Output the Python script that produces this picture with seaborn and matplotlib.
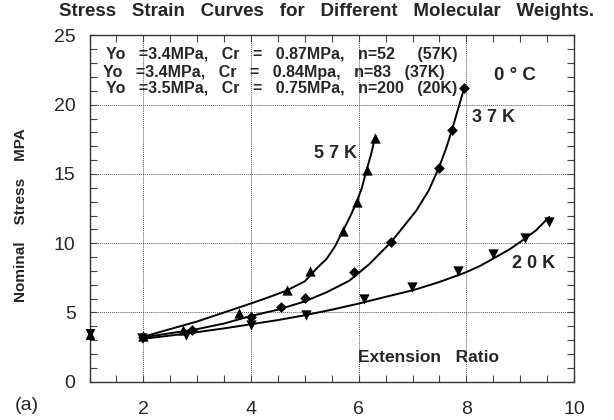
import numpy as np
import pandas as pd
import matplotlib
matplotlib.use("Agg")
import matplotlib.pyplot as plt
import seaborn as sns
from matplotlib.ticker import MultipleLocator

# ---- data ----
# measured points
x57 = [2.0, 2.73, 3.78, 4.66, 5.1, 5.7, 5.96, 6.15, 6.31]
y57 = [3.3, 3.72, 4.96, 6.65, 8.0, 10.9, 12.95, 15.3, 17.6]
x37 = [2.0, 2.9, 4.0, 4.56, 5.01, 5.91, 6.6, 7.49, 7.73, 7.96]
y37 = [3.2, 3.72, 4.68, 5.4, 6.05, 7.9, 10.1, 15.4, 18.2, 21.2]
x20 = [1.98, 2.79, 4.0, 5.03, 6.09, 6.99, 7.84, 8.49, 9.09, 9.54]
y20 = [3.12, 3.36, 4.08, 4.8, 5.95, 6.85, 8.0, 9.2, 10.4, 11.5]
# fitted curves
cx57 = [2.0, 2.5, 3.0, 3.5, 4.0, 4.33, 4.66, 5.0, 5.12, 5.25, 5.4, 5.55, 5.71, 5.85, 5.96, 6.06, 6.14, 6.23, 6.31]
cy57 = [3.25, 3.8, 4.35, 5.0, 5.65, 6.1, 6.58, 7.25, 7.75, 8.3, 8.85, 9.7, 10.9, 12.0, 12.95, 14.0, 15.2, 16.4, 17.75]
cx37 = [2.0, 2.5, 3.0, 3.5, 4.0, 4.5, 5.0, 5.4, 5.83, 6.2, 6.6, 7.07, 7.3, 7.49, 7.62, 7.75, 7.87, 7.96]
cy37 = [3.2, 3.5, 3.8, 4.2, 4.75, 5.2, 5.8, 6.45, 7.3, 8.5, 10.07, 12.35, 13.8, 15.45, 16.8, 18.4, 20.0, 21.2]
cx20 = [2.0, 2.5, 3.0, 3.5, 4.0, 4.5, 5.0, 5.5, 6.0, 6.4, 7.03, 7.5, 7.98, 8.25, 8.49, 8.8, 9.1, 9.3, 9.54]
cy20 = [3.1, 3.33, 3.58, 3.85, 4.15, 4.45, 4.8, 5.2, 5.64, 6.03, 6.63, 7.2, 7.88, 8.35, 8.87, 9.55, 10.36, 10.95, 11.9]
# undeformed point with error bar
x0 = [1.0]
y0 = [3.45]
e0 = [0.3]

xticks = [2, 4, 6, 8, 10]
yticks = [0, 5, 10, 15, 20, 25]

sns.set_style("ticks")
plt.rcParams['font.family'] = ['Liberation Sans', 'DejaVu Sans']

W, H = 614, 420
fig = plt.figure(figsize=(W/100, H/100), dpi=100)
ax = fig.add_axes([89.5/W, 1-381.7/H, (574-89.5)/W, (381.7-35.5)/H])

for cx, cy in [(cx57, cy57), (cx37, cy37), (cx20, cy20)]:
    sns.lineplot(x=cx, y=cy, ax=ax, color='black', lw=1.4, sort=False)

sns.scatterplot(x=x57, y=y57, ax=ax, marker='^', s=55, color='black', edgecolor='black', linewidth=0, zorder=4)
sns.scatterplot(x=x37, y=y37, ax=ax, marker='D', s=30, color='black', edgecolor='black', linewidth=0, zorder=4)
sns.scatterplot(x=x20, y=y20, ax=ax, marker='v', s=55, color='black', edgecolor='black', linewidth=0, zorder=4)

ax.errorbar(x0, y0, yerr=e0, fmt='none', ecolor='black', lw=1, clip_on=False)
ax.scatter(x0, [y0[0] + 0.08], marker='v', s=30, color='black', clip_on=False, zorder=5)
ax.scatter(x0, [y0[0] - 0.08], marker='^', s=30, color='black', clip_on=False, zorder=5)

ax.set_xlim(1, 10)
ax.set_ylim(0, 25)
ax.set_xticks(xticks)
ax.set_yticks(yticks)
ax.xaxis.set_minor_locator(MultipleLocator(0.5))
ax.yaxis.set_minor_locator(MultipleLocator(1))
ax.tick_params(which='both', direction='in', top=True, right=True, length=5, width=0.8, color='#444444')
ax.tick_params(axis='x', which='major', labelsize=14, pad=14)
ax.tick_params(axis='y', which='major', labelsize=14, pad=10)
for s in ax.spines.values():
    s.set_linewidth(1.0)
    s.set_color('#333333')

ax.grid(True, which='major', linestyle=(0, (1, 1)), color='#555555', lw=0.7)
ax.set_xlabel('')
ax.set_ylabel('')

def px(x):
    return x / W

def py(y):
    return 1 - y / H

# texts
fig.text(px(327), py(11), 'Stress   Strain   Curves   for   Different   Molecular   Weights.',
         ha='center', va='center', fontsize=13.5, fontweight='bold')
fig.text(px(21), py(215), 'Nominal    Stress    MPA', rotation=90, ha='center', va='center',
         fontsize=11, fontweight='bold')
fig.text(px(15), py(405), '(a)', ha='left', va='center', fontsize=14)

ann = ['Yo   =3.4MPa,   Cr   =   0.87MPa,   n=52     (57K)',
       'Yo   =3.4MPa,   Cr   =   0.84Mpa,   n=83   (37K)',
       'Yo   =3.5MPa,   Cr   =   0.75MPa,   n=200   (20K)']
ann_x = [106, 103, 106]
ann_y = [55, 72, 88]
for t, ax_, ay_ in zip(ann, ann_x, ann_y):
    fig.text(px(ax_), py(ay_), t, ha='left', va='center', fontsize=11.5, fontweight='bold')

fig.text(px(515), py(75), '0 ° C', ha='center', va='center', fontsize=13.5, fontweight='bold')
fig.text(px(494), py(117.5), '3 7 K', ha='center', va='center', fontsize=13, fontweight='bold')
fig.text(px(335), py(153), '5 7 K', ha='center', va='center', fontsize=13, fontweight='bold')
fig.text(px(534), py(264), '2 0 K', ha='center', va='center', fontsize=13, fontweight='bold')
fig.text(px(428), py(358), 'Extension   Ratio', ha='center', va='center', fontsize=12.5, fontweight='bold')

fig.savefig('out.png', dpi=100)
